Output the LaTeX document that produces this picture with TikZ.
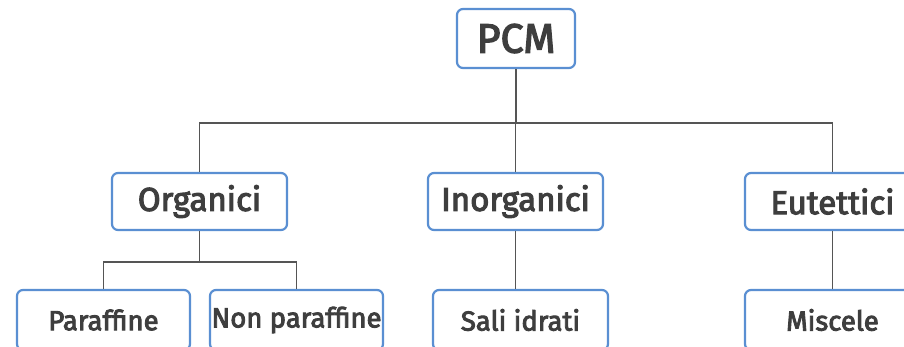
\documentclass[tikz,border=0pt]{standalone}
\usepackage{fontspec}
\setmainfont{Fira Sans}
\newfontfamily\boxfont{Fira Sans}[FakeBold=3.2]
\begin{document}
\begin{tikzpicture}[x=1pt,y=-1pt,
  box/.style={draw=boxblue,line width=2.2pt,rounded corners=6pt,fill=white,
    inner sep=0pt,text=txtgray},
  lvlone/.style={box,minimum width=118pt,minimum height=59pt,font=\boxfont\fontsize{41}{45}\selectfont},
  lvltwo/.style={box,minimum width=175pt,minimum height=57pt,font=\boxfont\fontsize{33}{37}\selectfont},
  lvlthree/.style={box,minimum width=173pt,minimum height=60pt,font=\boxfont\fontsize{27.5}{31}\selectfont},
  link/.style={draw=linegray,line width=1.8pt}]
\definecolor{boxblue}{HTML}{5A8FD2}
\definecolor{txtgray}{HTML}{3E3E3E}
\definecolor{linegray}{HTML}{555555}
\useasboundingbox (0,0) rectangle (904,346);
\clip (0,0) rectangle (904,346);
\coordinate (bus) at (516,123);
\coordinate (sub) at (200,262);
\node[lvlone] (pcm) at (516,38.5) {PCM};
\node[lvltwo] (org) at (199.5,201.5) {Organici};
\node[lvltwo] (inor) at (515.5,201.5) {Inorganici};
\node[lvltwo] (eut) at (832.5,201.5) {Eutettici};
\node[lvlthree] (par) at (103.5,320) {Paraffine};
\node[lvlthree] (npar) at (296.5,320) {Non paraffine};
\node[lvlthree,minimum width=175pt] (sali) at (520.5,320) {Sali idrati};
\node[lvlthree,minimum width=175pt] (misc) at (832.5,320) {Miscele};
\draw[link] (pcm.south) -- (pcm.south |- bus);
\draw[link] (org.north) |- (bus) -| (eut.north);
\draw[link] (inor.north) -- (inor.north |- bus);
\draw[link] (org.south) -- (org.south |- sub);
\draw[link] (par.north) |- (sub) -| (npar.north);
\draw[link] (inor.south) -- (inor.south |- sali.north);
\draw[link] (eut.south) -- (eut.south |- misc.north);
\end{tikzpicture}
\end{document}
